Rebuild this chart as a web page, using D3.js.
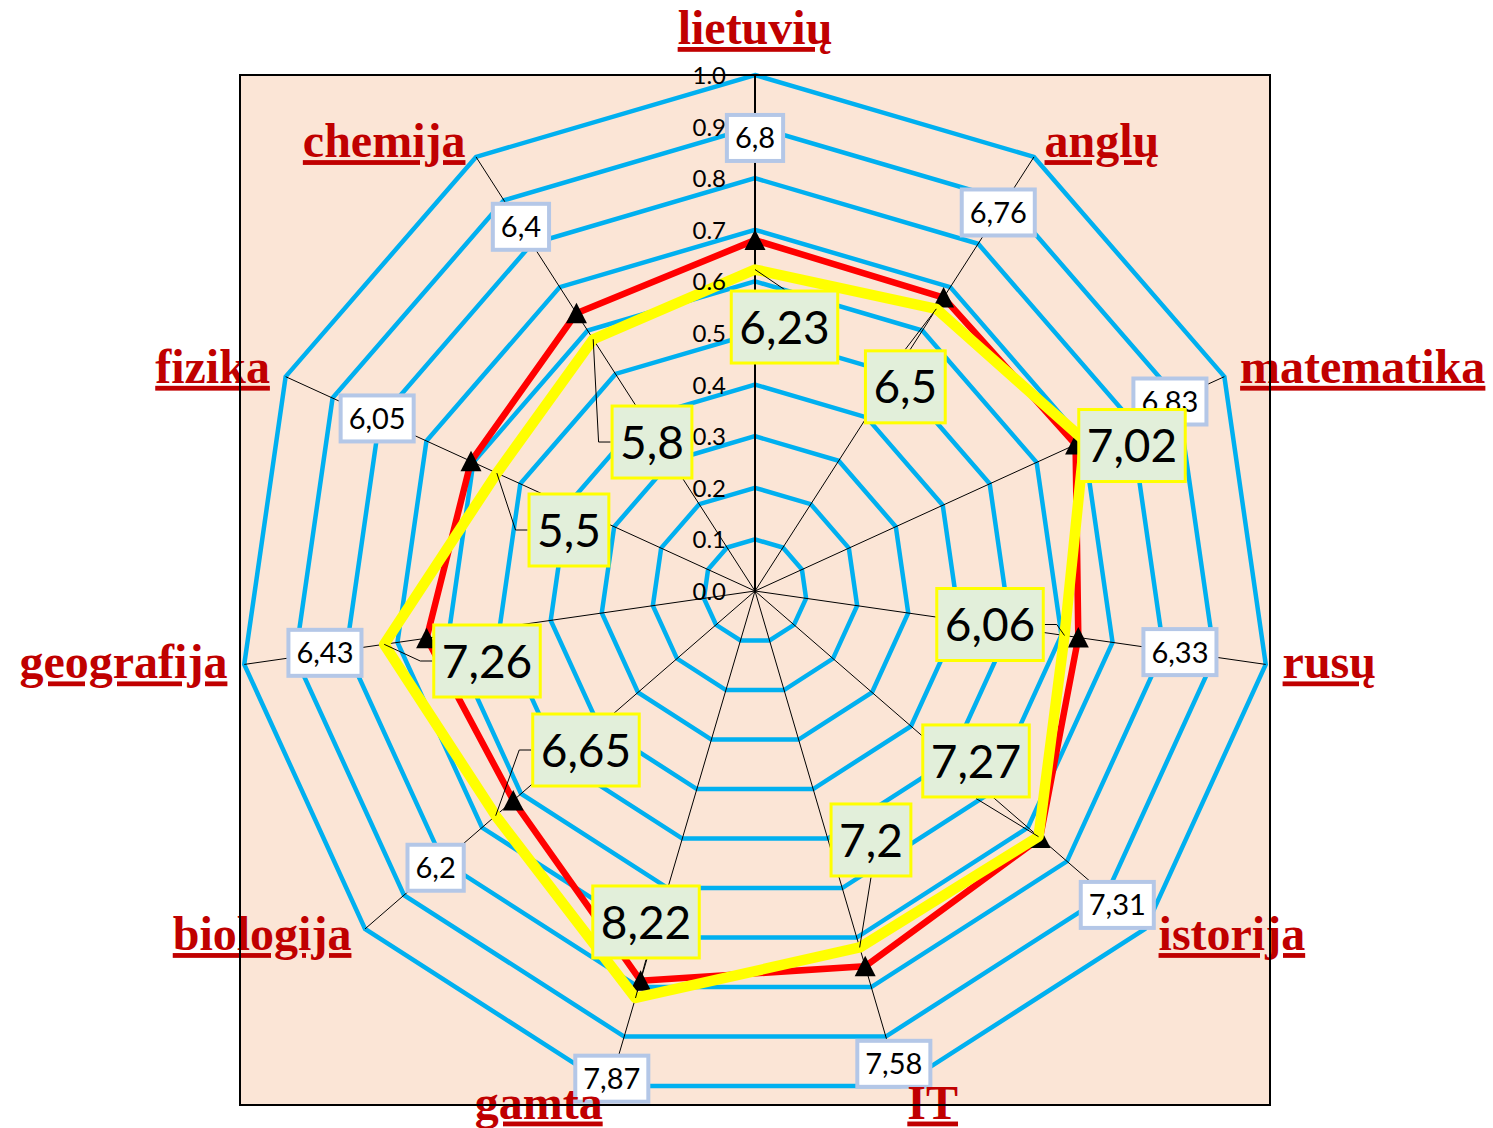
<!DOCTYPE html>
<html><head><meta charset="utf-8">
<script src="https://cdn.jsdelivr.net/npm/d3@7"></script>
<style>body{margin:0;background:#fff;}</style>
</head><body>
<svg id="chart" width="1493" height="1128"></svg>
<script>
// ---- data ----
const categories = ["lietuvių","anglų","matematika","rusų","istorija","IT","gamta","biologija","geografija","fizika","chemija"];
const seriesRed = [6.8, 6.76, 6.83, 6.33, 7.31, 7.58, 7.87, 6.2, 6.43, 6.05, 6.4];
const seriesYellow = [6.23, 6.5, 7.02, 6.06, 7.27, 7.2, 8.22, 6.65, 7.26, 5.5, 5.8];
const tickValues = [0, 0.1, 0.2, 0.3, 0.4, 0.5, 0.6, 0.7, 0.8, 0.9, 1.0];
const tickLabels = ["0.0","0.1","0.2","0.3","0.4","0.5","0.6","0.7","0.8","0.9","1.0"];
// label placement (moved labels, as in the original)
const redLabelRadius = [0.878, 0.872, 0.884, 0.832, 0.929, 0.955, 0.985, 0.819, 0.842, 0.805, 0.839];
const yellowLabelOffset = [[29.5,57.5],[-31,78],[47.5,5],[-74.5,-11],[-62.5,-75.7],[11.3,-107.5],[10.5,-76],[90.3,-65.7],[102.8,16.7],[72.1,56.9],[58.8,102.8]];

// ---- layout ----
const cx = 755, cy = 591, R = 516;
const svg = d3.select("#chart");
const rScale = d3.scaleLinear().domain([0, 1]).range([0, R]);
const aScale = d3.scaleLinear().domain([0, categories.length]).range([0, 2 * Math.PI]);
const toVal = v => v / 10;
const fmt = v => String(v).replace(".", ",");

// plot area
svg.append("rect").attr("x", cx - 515).attr("y", cy - R).attr("width", 1030).attr("height", 1030)
  .attr("fill", "#FBE5D6");

const g = svg.append("g").attr("transform", `translate(${cx},${cy})`);

// grid rings
const ringLine = t => d3.lineRadial().angle((d, i) => aScale(i)).radius(rScale(t)).curve(d3.curveLinearClosed)(categories);
g.selectAll(".ring").data(tickValues.slice(1)).join("path")
  .attr("d", t => ringLine(t)).attr("fill", "none").attr("stroke", "#00B0F0").attr("stroke-width", 4.5)
  .attr("stroke-linejoin", "miter");

// spokes
g.selectAll(".spoke").data(categories).join("line")
  .attr("x1", 0).attr("y1", 0)
  .attr("x2", (d, i) => d3.pointRadial(aScale(i), rScale(1))[0])
  .attr("y2", (d, i) => d3.pointRadial(aScale(i), rScale(1))[1])
  .attr("stroke", "#000").attr("stroke-width", (d, i) => i === 0 ? 2 : 1);

// series
const seriesLine = d3.lineRadial().angle((d, i) => aScale(i)).radius(d => rScale(toVal(d))).curve(d3.curveLinearClosed);
g.append("path").datum(seriesRed).attr("d", seriesLine).attr("fill", "none")
  .attr("stroke", "#FF0000").attr("stroke-width", 6.5).attr("stroke-linejoin", "round");
g.selectAll(".mk").data(seriesRed).join("path")
  .attr("transform", (d, i) => { const p = d3.pointRadial(aScale(i), rScale(toVal(d))); return `translate(${p[0]},${p[1]})`; })
  .attr("d", "M0,-10.5L10.5,10L-10.5,10Z").attr("fill", "#000");
g.append("path").datum(seriesYellow).attr("d", seriesLine).attr("fill", "none")
  .attr("stroke", "#FFFF00").attr("stroke-width", 10.5).attr("stroke-linejoin", "round");

// category labels
const catR = 530;
categories.forEach((c, i) => {
  const a = aScale(i);
  const p = d3.pointRadial(a, catR);
  const s = Math.sin(a), co = Math.cos(a);
  let anchor, y;
  if (Math.abs(s) < 0.1) { anchor = "middle"; y = p[1] - 17; }
  else { anchor = s > 0 ? "start" : "end"; y = p[1] + 12 + (co < -0.9 ? 7 : 0); }
  svg.append("text").attr("x", cx + p[0] + (s > 0.1 ? 3 : s < -0.1 ? -3 : 0)).attr("y", cy + y)
    .attr("text-anchor", anchor)
    .attr("font-family", "'Liberation Serif', 'Times New Roman', serif").attr("font-weight", "bold")
    .attr("font-size", 48).attr("fill", "#C00000").attr("text-decoration", "underline")
    .text(c);
});

// plot area border
svg.append("rect").attr("x", cx - 515).attr("y", cy - R).attr("width", 1030).attr("height", 1030)
  .attr("fill", "none").attr("stroke", "#000").attr("stroke-width", 2);

// tick labels
g.selectAll(".tick").data(tickValues).join("text")
  .attr("x", -29).attr("y", t => -rScale(t) + 9)
  .attr("text-anchor", "end").attr("font-family", "Lato, 'Open Sans', sans-serif")
  .attr("font-size", 24).attr("fill", "#000")
  .text((t, i) => tickLabels[i]);

// yellow label geometry & leader lines
const ySize = 46, rSize = 29;
const measure = (txt, size) => {
  const t = svg.append("text").attr("font-family", "Lato, 'Open Sans', sans-serif").attr("font-size", size).text(txt);
  const w = t.node().getComputedTextLength(); t.remove(); return w;
};
const yBoxes = seriesYellow.map((v, i) => {
  const p = d3.pointRadial(aScale(i), rScale(toVal(v)));
  const c = [p[0] + yellowLabelOffset[i][0], p[1] + yellowLabelOffset[i][1]];
  const w = measure(fmt(v), ySize) + 19, h = 75;
  return { v, p, c, x0: c[0] - w / 2, x1: c[0] + w / 2, y0: c[1] - h / 2, y1: c[1] + h / 2, w, h };
});
yBoxes.forEach(b => {
  const [px, py] = b.p;
  const dxOut = px < b.x0 ? b.x0 - px : (px > b.x1 ? px - b.x1 : 0);
  const dyOut = py < b.y0 ? b.y0 - py : (py > b.y1 ? py - b.y1 : 0);
  let pts = null;
  if (dxOut > 10) {
    const ex = px < b.x0 ? b.x0 : b.x1;
    const el = px < b.x0 ? ex - 12 : ex + 12;
    pts = [[ex, b.c[1]], [el, b.c[1]], [px, py]];
  } else if (dyOut > 0) {
    const ey = py < b.y0 ? b.y0 : b.y1;
    pts = [[b.c[0], ey], [px, py]];
  }
  if (pts) g.append("path").attr("d", d3.line()(pts)).attr("fill", "none").attr("stroke", "#000").attr("stroke-width", 1);
});

// red labels
seriesRed.forEach((v, i) => {
  const p = d3.pointRadial(aScale(i), rScale(redLabelRadius[i]));
  const w = measure(fmt(v), rSize) + 16, h = 46;
  g.append("rect").attr("x", p[0] - w / 2).attr("y", p[1] - h / 2).attr("width", w).attr("height", h)
    .attr("fill", "#fff").attr("stroke", "#B4C7E7").attr("stroke-width", 4);
  g.append("text").attr("x", p[0]).attr("y", p[1] + rSize * 0.36).attr("text-anchor", "middle")
    .attr("font-family", "Lato, 'Open Sans', sans-serif").attr("font-size", rSize).attr("fill", "#000")
    .text(fmt(v));
});

// yellow labels
yBoxes.forEach(b => {
  g.append("rect").attr("x", b.x0 + 1.5).attr("y", b.y0 + 1.5).attr("width", b.w - 3).attr("height", b.h - 3)
    .attr("fill", "#E2EFDA").attr("stroke", "#FFFF00").attr("stroke-width", 3);
  g.append("text").attr("x", b.c[0]).attr("y", b.c[1] + ySize * 0.36).attr("text-anchor", "middle")
    .attr("font-family", "Lato, 'Open Sans', sans-serif").attr("font-size", ySize).attr("fill", "#000")
    .text(fmt(b.v));
});
</script>
</body></html>
